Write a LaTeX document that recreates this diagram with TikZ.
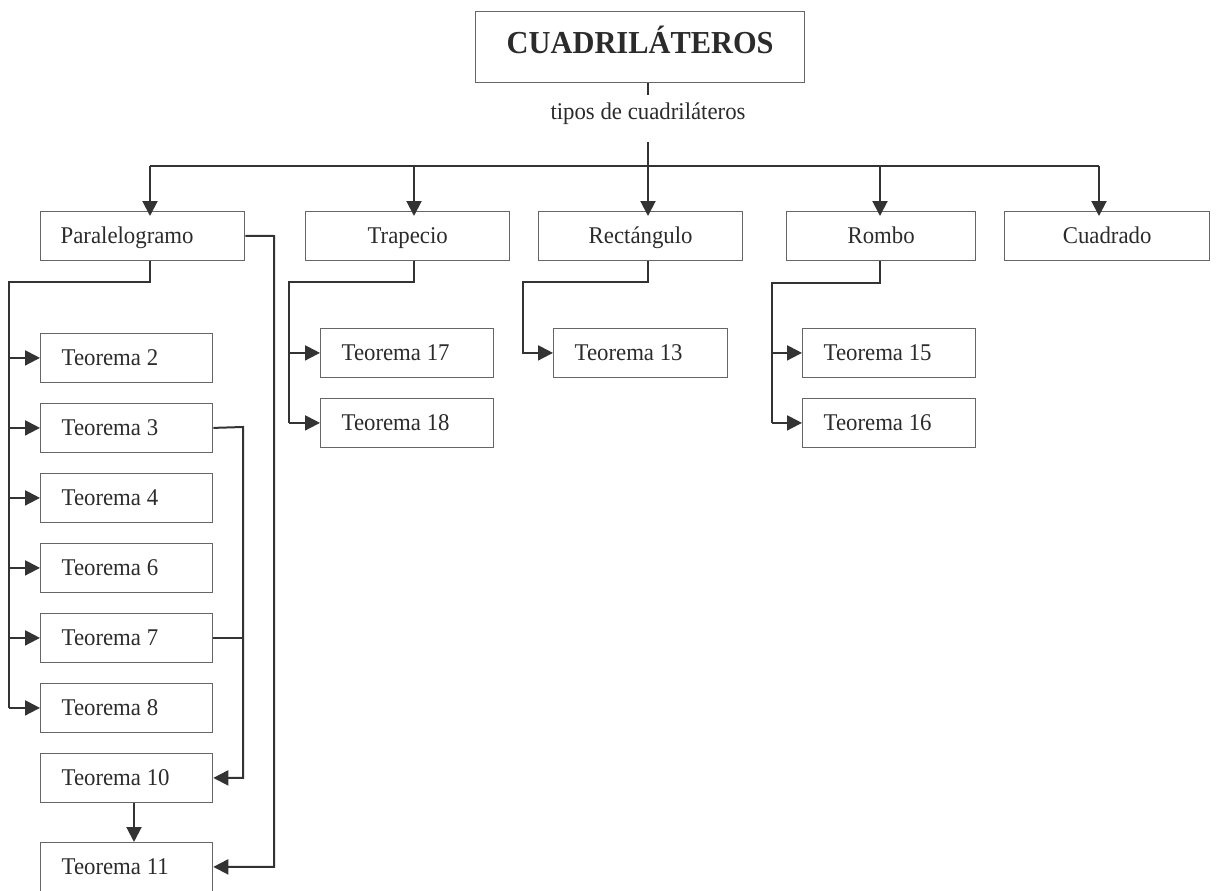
\documentclass[tikz,border=0pt]{standalone}
\usepackage{fontspec}
\setmainfont{Liberation Serif}[FakeStretch=0.95]
\usetikzlibrary{arrows.meta}
\definecolor{lnc}{HTML}{333333}
\definecolor{bxc}{HTML}{666666}
\definecolor{txc}{HTML}{2b2b2b}
\tikzset{
  box/.style={draw=bxc, line width=1.3pt, rectangle, anchor=north west, inner ysep=0pt,
    minimum height=48.5pt, text=txc, text height=16pt, text depth=0pt,
    font=\fontsize{24}{28}\selectfont},
  cbox/.style={box, inner xsep=0pt},
  teo/.style={box, inner xsep=21pt, text width=131pt, align=flush left},
  conn/.style={draw=lnc, line width=2pt},
  arr/.style={conn, -{Triangle[length=15pt,width=15pt]}},
}
\begin{document}
\begin{tikzpicture}[x=1pt,y=-1pt]
\useasboundingbox (0,0) rectangle (1216,891);
% title
\node[box, minimum width=329pt, minimum height=71pt, inner xsep=0pt, text height=21pt, text depth=8pt,
  font=\fontsize{32}{36}\selectfont\bfseries] (title) at (475,11) {CUADRILÁTEROS};
\node[inner sep=0pt, text=txc, text height=24pt, text depth=23pt, anchor=base,
  font=\fontsize{24}{28}\selectfont] (lab) at (648,119) {tipos de cuadriláteros};
% row 1
\node[box, inner xsep=20pt, text width=164pt, align=flush left] (par) at (40,211) {Paralelogramo};
\node[cbox, minimum width=204pt] (tra) at (305,211) {Trapecio};
\node[cbox, minimum width=204pt] (rec) at (538,211) {Rectángulo};
\node[cbox, minimum width=189pt] (rom) at (786,211) {Rombo};
\node[cbox, minimum width=205pt] (cua) at (1004,211) {Cuadrado};
% left column
\node[teo, text width=130pt] (t2) at (40,333) {Teorema 2};
\node[teo, text width=130pt] (t3) at (40,403) {Teorema 3};
\node[teo, text width=130pt] (t4) at (40,473) {Teorema 4};
\node[teo, text width=130pt] (t6) at (40,543) {Teorema 6};
\node[teo, text width=130pt] (t7) at (40,613) {Teorema 7};
\node[teo, text width=130pt] (t8) at (40,683) {Teorema 8};
\node[teo, text width=130pt] (t10) at (40,753) {Teorema 10};
\node[teo, text width=130pt] (t11) at (40,842) {Teorema 11};
% others
\node[teo] (t17) at (320,328) {Teorema 17};
\node[teo] (t18) at (320,398) {Teorema 18};
\node[teo, text width=132pt] (t13) at (553,328) {Teorema 13};
\node[teo] (t15) at (802,328) {Teorema 15};
\node[teo] (t16) at (802,398) {Teorema 16};
% coordinates
\coordinate (hub) at (648,166);
\coordinate (hp) at (150,166);
\coordinate (ht) at (414,166);
\coordinate (hr) at (648,166);
\coordinate (hm) at (880,166);
\coordinate (hc) at (1099,166);
\coordinate (pl) at (9,282);
\coordinate (tl) at (289,282);
\coordinate (rl) at (523,282);
\coordinate (ml) at (772,283);
\coordinate (pr) at (274,236);
\coordinate (tr) at (243,427);
\coordinate (td) at (134,0);
% top connectors
\draw[conn] (title.south -| lab) -- (lab.north);
\draw[conn] (lab.south) -- (hub);
\draw[conn] (hp) -- (hc);
\foreach \h/\b in {hp/par, ht/tra, hr/rec, hm/rom, hc/cua}
  \draw[arr, shorten >=-5pt] (\h) -- (\h |- \b.north);
% paralelogramo
\draw[conn] (hp |- par.south) -- (hp |- pl) -- (pl) -- (pl |- t8.west);
\foreach \t in {t2,t3,t4,t6,t7,t8}
  \draw[arr] (pl |- \t.west) -- (\t.west);
\draw[arr] (par.east) -- (pr) -- (pr |- t11.east) -- (t11.east);
\draw[arr] (t3.east) -- (tr) -- (tr |- t10.east) -- (t10.east);
\draw[conn] (t7.east) -- (tr |- t7.east);
\draw[arr] (td |- t10.south) -- (td |- t11.north);
% trapecio
\draw[conn] (ht |- tra.south) -- (ht |- tl) -- (tl) -- (tl |- t18.west);
\draw[arr] (tl |- t17.west) -- (t17.west);
\draw[arr] (tl |- t18.west) -- (t18.west);
% rectangulo
\draw[arr] (hr |- rec.south) -- (hr |- rl) -- (rl) -- (rl |- t13.west) -- (t13.west);
% rombo
\draw[conn] (hm |- rom.south) -- (hm |- ml) -- (ml) -- (ml |- t16.west);
\draw[arr] (ml |- t15.west) -- (t15.west);
\draw[arr] (ml |- t16.west) -- (t16.west);
\end{tikzpicture}
\end{document}
